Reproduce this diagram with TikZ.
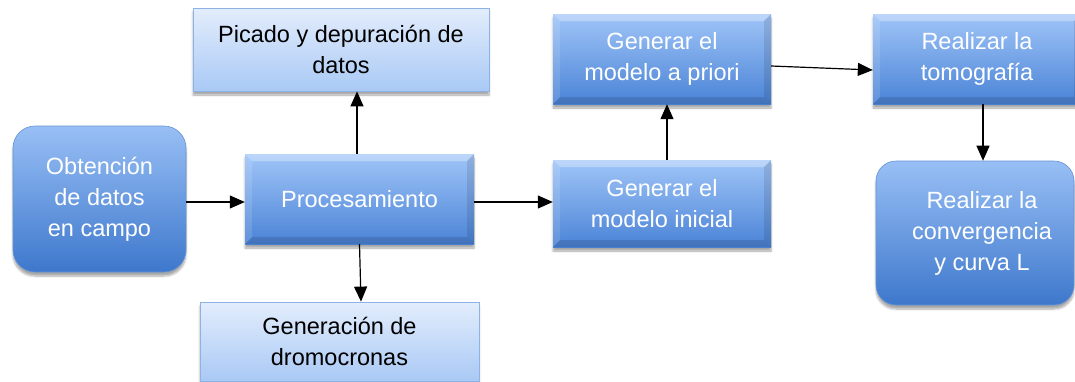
\documentclass[tikz,border=0pt]{standalone}
\usepackage{fontspec}
\setmainfont{Liberation Sans}
\usetikzlibrary{arrows.meta,shadows.blur}
\definecolor{dtop}{HTML}{A0C5F8}
\definecolor{dbot}{HTML}{4A83D6}
\definecolor{rtop}{HTML}{98BFF5}
\definecolor{rbot}{HTML}{3E78CC}
\definecolor{ltop}{HTML}{E3EDFC}
\definecolor{lbot}{HTML}{A9C9F5}
\definecolor{lborder}{HTML}{8CB2E6}
\begin{document}
\begin{tikzpicture}[x=1pt,y=-1pt,
  every node/.style={font=\fontsize{23.5}{31}\selectfont, align=center, inner sep=0pt},
  shade/.style={blur shadow={shadow xshift=0pt,shadow yshift=-4pt,shadow blur steps=6,shadow opacity=35}},
  roundbox/.style={shade, rounded corners=22pt, top color=rtop, bottom color=rbot, draw=rbot!80!white, line width=0.6pt, text=white},
  bevelbox/.style={shade, top color=dtop, bottom color=dbot, text=white,
    path picture={
      \coordinate (bnw) at (path picture bounding box.north west);
      \coordinate (bne) at (path picture bounding box.north east);
      \coordinate (bsw) at (path picture bounding box.south west);
      \coordinate (bse) at (path picture bounding box.south east);
      \fill[white,opacity=0.3] (bnw) -- (bne) -- ([xshift=-7pt,yshift=-7pt]bne) -- ([xshift=7pt,yshift=-7pt]bnw) -- cycle;
      \fill[white,opacity=0.12] (bnw) -- (bsw) -- ([xshift=7pt,yshift=7pt]bsw) -- ([xshift=7pt,yshift=-7pt]bnw) -- cycle;
      \fill[black,opacity=0.12] (bsw) -- (bse) -- ([xshift=-7pt,yshift=7pt]bse) -- ([xshift=7pt,yshift=7pt]bsw) -- cycle;
      \fill[black,opacity=0.10] (bne) -- (bse) -- ([xshift=-7pt,yshift=7pt]bse) -- ([xshift=-7pt,yshift=-7pt]bne) -- cycle;
    }},
  lightbox/.style={shade, top color=ltop, bottom color=lbot, draw=lborder, line width=0.8pt, text=black},
  conn/.style={draw=black, line width=1.2pt, -{Triangle[length=15pt,width=13pt]}}
]
\useasboundingbox (0,0) rectangle (1075,381);

\node[roundbox, minimum width=173pt, minimum height=146pt] (obt) at (99.5,199) {Obtención\\de datos\\en campo};
\node[lightbox, minimum width=296pt, minimum height=83pt] (pic) at (341,49.5) {Picado y depuración de\\datos};
\node[bevelbox, minimum width=229pt, minimum height=90pt] (pro) at (359.5,199) {Procesamiento};
\node[lightbox, minimum width=279pt, minimum height=79pt] (gen) at (339.5,341.5) {Generación de\\dromocronas};
\node[bevelbox, minimum width=218pt, minimum height=90pt] (apr) at (662,59) {Generar el\\modelo a priori};
\node[bevelbox, minimum width=218pt, minimum height=87pt] (ini) at (662,203.5) {Generar el\\modelo inicial};
\node[bevelbox, minimum width=208pt, minimum height=90pt] (tom) at (977,59) {Realizar la\\tomografía};
\node[roundbox, rounded corners=20pt, minimum width=198pt, minimum height=144pt] (con) at (975,233) {\hspace*{14pt}Realizar la\\\hspace*{14pt}convergencia\\\hspace*{14pt}y curva L};

\draw[conn] ([yshift=-3pt]obt.east) -- ([yshift=-3pt]pro.west);
\draw[conn] ([xshift=-2.5pt]pro.north) -- ([xshift=16pt]pic.south);
\draw[conn] (pro.south) -- ([xshift=21.5pt]gen.north);
\draw[conn] ([yshift=-3pt]pro.east) -- ([yshift=1.5pt]ini.west);
\draw[conn] ([xshift=5pt]ini.north) -- ([xshift=5pt]apr.south);
\draw[conn] ([yshift=-7pt]apr.east) -- ([yshift=-11pt]tom.west);
\draw[conn] ([xshift=6pt]tom.south) -- ([xshift=8pt]con.north);
\end{tikzpicture}
\end{document}
